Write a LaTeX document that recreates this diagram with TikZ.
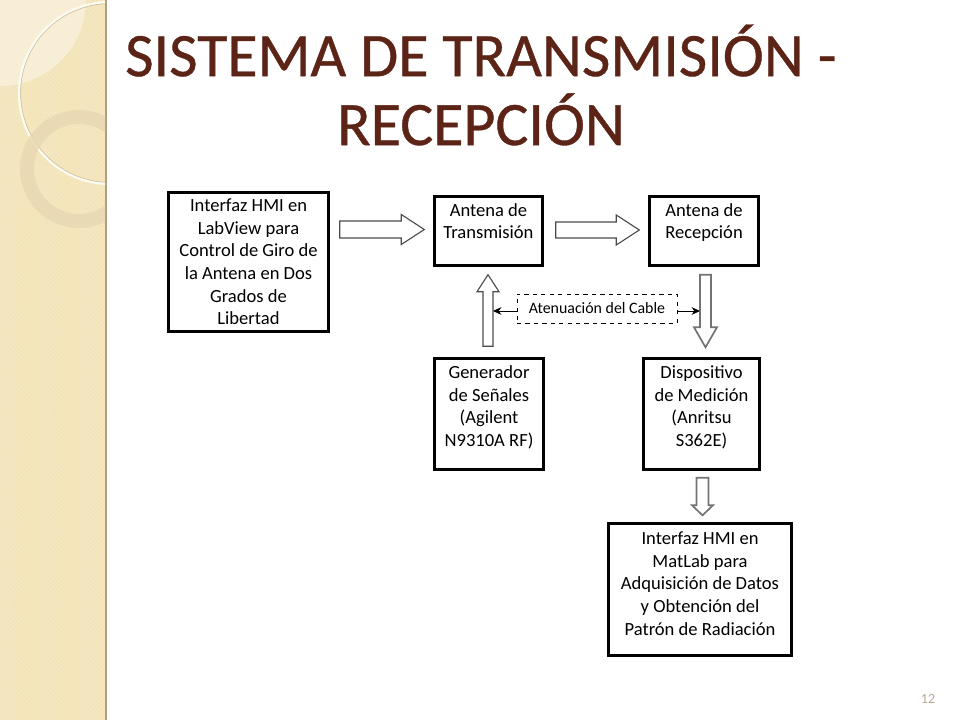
\documentclass[tikz,border=0pt]{standalone}
\usepackage{fontspec}
\setmainfont{Carlito}
\newfontfamily\titlefont[FakeBold=.6]{Carlito}
\usetikzlibrary{arrows.meta, calc, patterns}
\definecolor{panel}{HTML}{F3E4BA}
\definecolor{panellight}{HTML}{F8F0DA}
\definecolor{panelring}{HTML}{E8D9B4}
\definecolor{titlebrown}{HTML}{5C2417}
\definecolor{pagenum}{HTML}{B5AA90}
\tikzset{
	blockbox/.style={draw=black,line width=2.4pt,inner sep=0pt,align=center,
		font=\fontsize{13.2}{16.1}\selectfont},
	bigarrow/.style={draw=#1,fill=white,line width=.8pt,line join=miter},
	bigarrow/.default=black!70
}
% Blockpfeil: Start, Ziel, halber Schaft, halber Kopf, Kopflaenge (in Pixeln)
\newcommand{\blockarrow}[6][]{
	\coordinate (ba) at #2;
	\coordinate (bb) at #3;
	\coordinate (bc) at ($(bb)!#6*.025cm!(ba)$);
	\draw[bigarrow,#1] ($(ba)!#4*.025cm!90:(bb)$) -- ($(bc)!#4*.025cm!-90:(ba)$) -- ($(bc)!#5*.025cm!-90:(ba)$) -- (bb)
		-- ($(bc)!#5*.025cm!90:(ba)$) -- ($(bc)!#4*.025cm!90:(ba)$) -- ($(ba)!#4*.025cm!-90:(bb)$) -- cycle;
}
\begin{document}
\begin{tikzpicture}[x=.025cm,y=-.025cm,>={Stealth[length=6pt,width=5.5pt]}]
	\useasboundingbox (0,0) rectangle (960,720);
	
	% Seitenleiste
	\fill[panel] (0,0) rectangle (105,720);
	\fill[pattern=crosshatch dots,pattern color=white!35!panel] (0,0) rectangle (105,720);
	\fill[black!30!panel] (105,0) rectangle (106.5,720);
	\begin{scope}
		\clip (0,0) rectangle (105,720);
		\fill[panellight,fill opacity=.85] (0,0) -- (86,0) arc (0:90:86) -- cycle;
		\draw[black!15!panel,line width=.6pt] (110,93) circle (89.5);
		\draw[white!85!panel,line width=1.5pt] (110,93) circle (91);
		\fill[panelring,fill opacity=.85,even odd rule] (79,169) circle (59) (79,169) circle (45);
	\end{scope}
	
	% Titel
	\node[text=titlebrown,align=center,font=\titlefont\fontsize{44}{49}\selectfont] (title) at (481,85)
		{SISTEMA DE TRANSMISIÓN -\\RECEPCIÓN};
	
	% Kaesten
	\node[blockbox,minimum width=4cm,minimum height=3.475cm] (hmi) at (248.5,262)
		{Interfaz HMI en\\LabView para\\Control de Giro de\\la Antena en Dos\\Grados de\\Libertad};
	\node[blockbox,minimum width=2.7cm,minimum height=1.725cm] (tx) at (488.5,231)
		{Antena de\\Transmisión\\[-2pt]\mbox{}};
	\node[blockbox,minimum width=2.725cm,minimum height=1.725cm] (rx) at (704,231)
		{Antena de\\Recepción\\[-2pt]\mbox{}};
	\node[blockbox,minimum width=2.725cm,minimum height=2.775cm] (gen) at (489,414)
		{Generador\\de Señales\\(Agilent\\N9310A RF)\\[-4.6pt]\mbox{}};
	\node[blockbox,minimum width=2.9cm,minimum height=2.775cm] (disp) at (701.5,414)
		{Dispositivo\\de Medición\\(Anritsu\\S362E)\\[-4.6pt]\mbox{}};
	\node[blockbox,minimum width=4.575cm,minimum height=3.3cm] (matlab) at (700,589.5)
		{Interfaz HMI en\\MatLab para\\Adquisición de Datos\\y Obtención del\\Patrón de Radiación\\[-7.5pt]\mbox{}};
	\node[draw=black,dashed,line width=.5pt,inner sep=0pt,minimum width=4cm,minimum height=.725cm,
		font=\fontsize{11.3}{13}\selectfont] (cable) at (597,308.5) {Atenuación del Cable};
	
	% Pfeile
	\blockarrow{($(hmi.east |- tx.west)+(9.5,-1.5)$)}{($(tx.west)+(-8.5,-1.5)$)}{8.5}{15}{23}
	\blockarrow{($(tx.east)+(11.5,-1)$)}{($(rx.west)+(-8.5,-1)$)}{8}{15}{23}
	\blockarrow{($(gen.north)+(-1,-10.5)$)}{($(tx.south)+(-.5,7.5)$)}{5}{11}{17}
	\blockarrow[bigarrow=black!55,line width=1.2pt]{($(rx.south)+(1.5,7.5)$)}{($(disp.north)+(4,-9.5)$)}{5.5}{11.5}{20}
	\blockarrow[bigarrow=black!55,line width=1.2pt]{($(disp.south)+(1,6.5)$)}{($(matlab.north)+(2.5,-6.5)$)}{6}{10.5}{10}
	
	% Abzweige zum Kabel
	\coordinate (upgen) at (493,311);
	\coordinate (downrx) at (700,311);
	\draw[->,line width=.6pt] (cable.west |- upgen) -- (upgen);
	\draw[->,line width=.6pt] (cable.east |- downrx) -- (downrx);
	
	% Seitenzahl
	\node[text=pagenum,font=\fontsize{10}{12}\selectfont] (pagenr) at (928,699) {12};
\end{tikzpicture}
\end{document}
